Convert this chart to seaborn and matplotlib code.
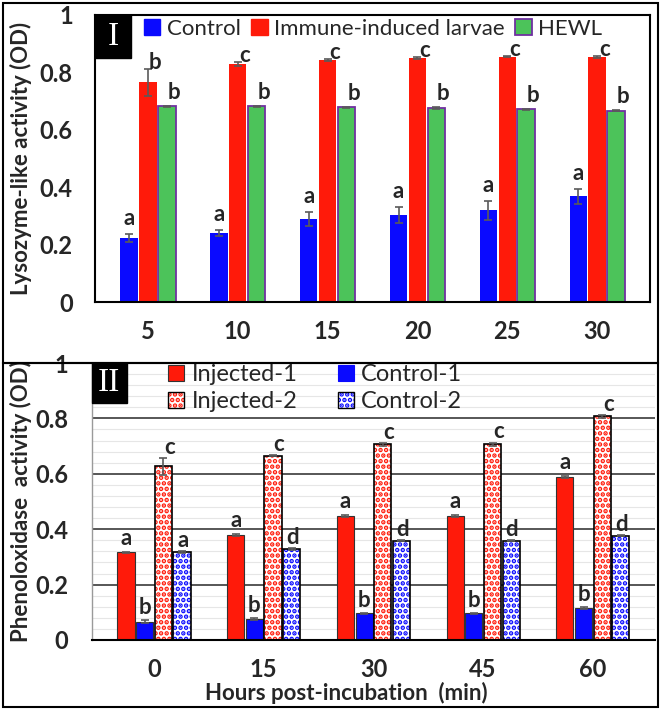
import numpy as np
import pandas as pd
import matplotlib
matplotlib.use('Agg')
import matplotlib.pyplot as plt
import seaborn as sns
from matplotlib.patches import Rectangle, Patch
from matplotlib.legend_handler import HandlerTuple

# ---- panel I: lysozyme-like activity ----
lys_times = ['5', '10', '15', '20', '25', '30']
lys_series = ['Control', 'Immune-induced larvae', 'HEWL']
lys_control = [0.223, 0.240, 0.290, 0.304, 0.319, 0.368]
lys_control_err = [0.013, 0.011, 0.025, 0.027, 0.032, 0.026]
lys_immune = [0.765, 0.829, 0.844, 0.850, 0.854, 0.854]
lys_immune_err = [0.048, 0.008, 0.004, 0.002, 0.002, 0.003]
lys_hewl = [0.682, 0.682, 0.678, 0.676, 0.672, 0.667]
lys_hewl_err = [0.002, 0.002, 0.002, 0.002, 0.002, 0.002]
lys_letters_control = ['a', 'a', 'a', 'a', 'a', 'a']
lys_letters_immune = ['b', 'c', 'c', 'c', 'c', 'c']
lys_letters_hewl = ['b', 'b', 'b', 'b', 'b', 'b']

# ---- panel II: phenoloxidase activity ----
po_times = ['0', '15', '30', '45', '60']
po_series = ['Injected-1', 'Control-1', 'Injected-2', 'Control-2']
po_inj1 = [0.317, 0.380, 0.448, 0.448, 0.588]
po_inj1_err = [0.002, 0.003, 0.003, 0.003, 0.003]
po_ctl1 = [0.066, 0.075, 0.096, 0.096, 0.116]
po_ctl1_err = [0.005, 0.004, 0.002, 0.002, 0.004]
po_inj2 = [0.627, 0.666, 0.707, 0.707, 0.807]
po_inj2_err = [0.030, 0.003, 0.005, 0.006, 0.006]
po_ctl2 = [0.317, 0.328, 0.358, 0.358, 0.377]
po_ctl2_err = [0.003, 0.003, 0.002, 0.002, 0.002]
po_letters_inj1 = ['a', 'a', 'a', 'a', 'a']
po_letters_ctl1 = ['b', 'b', 'b', 'b', 'b']
po_letters_inj2 = ['c', 'c', 'c', 'c', 'c']
po_letters_ctl2 = ['a', 'd', 'd', 'd', 'd']

BLUE = '#0a0aff'
RED = '#ff1a0a'
GREEN = '#4cc35a'
PURPLE = '#7030a0'
DOTS = '...'

sns.set_style('white')
plt.rcParams['font.family'] = ['Lato', 'DejaVu Sans']
plt.rcParams['hatch.linewidth'] = 2.3

lys_df = pd.DataFrame({
    'time': lys_times * 3,
    'series': np.repeat(lys_series, len(lys_times)),
    'value': lys_control + lys_immune + lys_hewl,
})
po_df = pd.DataFrame({
    'time': po_times * 4,
    'series': np.repeat(po_series, len(po_times)),
    'value': po_inj1 + po_ctl1 + po_inj2 + po_ctl2,
})

fig = plt.figure(figsize=(6.61, 7.10), dpi=100)
ax1 = fig.add_axes([0.1437, 0.5746, 0.8397, 0.4043])
ax2 = fig.add_axes([0.139, 0.0986, 0.852, 0.3901])


def add_errors_letters(ax, container, errs, letters, xfrac, dy):
    for p, e, lt in zip(container.patches, errs, letters):
        xc = p.get_x() + p.get_width() / 2
        top = p.get_height()
        ax.errorbar(xc, top, yerr=e, color='#5a5a5a', lw=1.2, capsize=3,
                    capthick=1.2, zorder=5)
        ax.annotate(lt, xy=(xc + xfrac * p.get_width(), top + e), xytext=(0, dy),
                    textcoords='offset points', ha='center', va='baseline',
                    fontsize=16, fontweight='bold', zorder=6)


# ---- Panel I ----
sns.barplot(data=lys_df, x='time', y='value', hue='series', order=lys_times,
            hue_order=lys_series, palette=[BLUE, RED, GREEN], width=0.63,
            gap=0.07, legend=False, ax=ax1, saturation=1)
for cont in ax1.containers:
    for p in cont.patches:
        p.set_linewidth(0)
for p in ax1.containers[2].patches:
    p.set_edgecolor(PURPLE)
    p.set_linewidth(1.3)

add_errors_letters(ax1, ax1.containers[0], lys_control_err, lys_letters_control, 0, 6.5)
add_errors_letters(ax1, ax1.containers[1], lys_immune_err, lys_letters_immune, 0.4, 0)
add_errors_letters(ax1, ax1.containers[2], lys_hewl_err, lys_letters_hewl, 0.4, 5)

ax1.set_ylim(0, 1)
ax1.set_yticks([0, 0.2, 0.4, 0.6, 0.8, 1.0])
ax1.set_yticklabels(['0', '0.2', '0.4', '0.6', '0.8', '1'])
ax1.tick_params(axis='both', length=0, labelsize=17)
ax1.tick_params(axis='y', pad=16)
ax1.tick_params(axis='x', pad=13)
for lb in ax1.get_xticklabels() + ax1.get_yticklabels():
    lb.set_fontweight('bold')
for s in ax1.spines.values():
    s.set_visible(True)
    s.set_color('black')
    s.set_linewidth(1.5)
ax1.set_xlabel('')
ax1.set_ylabel('Lysozyme-like activity (OD)', fontsize=16, fontweight='bold')
ax1.yaxis.set_label_coords(-0.114, 0.5)

h1 = [Patch(facecolor=BLUE, edgecolor=BLUE), Patch(facecolor=RED, edgecolor=RED),
      Patch(facecolor=GREEN, edgecolor=PURPLE, lw=1.3)]
ax1.legend(h1, lys_series, ncol=3, loc='center left', bbox_to_anchor=(0.088, 0.951),
           frameon=False, fontsize=16, handlelength=0.75, handleheight=0.75,
           handletextpad=0.3, columnspacing=0.45, borderpad=0, borderaxespad=0)

ax1.add_patch(Rectangle((0, 1), 0.065, -0.15, transform=ax1.transAxes,
                        facecolor='black', edgecolor='black', clip_on=False, zorder=7))
ax1.text(0.0325, 0.925, 'I', transform=ax1.transAxes, ha='center', va='center',
         color='white', fontsize=24, family='Liberation Serif', zorder=8)

# ---- Panel II ----
sns.barplot(data=po_df, x='time', y='value', hue='series', order=po_times,
            hue_order=po_series, palette=[RED, BLUE, RED, BLUE], width=0.68,
            gap=0.08, legend=False, ax=ax2, saturation=1)
for cont in ax2.containers[:2]:
    for p in cont.patches:
        p.set_edgecolor('#333333')
        p.set_linewidth(0.8)
for cont, col in zip(ax2.containers[2:], [RED, BLUE]):
    for p in cont.patches:
        p.set_facecolor('white')
        p.set_edgecolor(col)
        p.set_hatch(DOTS)
        p.set_linewidth(0)
        ax2.add_patch(Rectangle((p.get_x(), p.get_y()), p.get_width(), p.get_height(),
                                fill=False, edgecolor='black', lw=1.2, zorder=p.get_zorder() + 0.1))

add_errors_letters(ax2, ax2.containers[0], po_inj1_err, po_letters_inj1, 0, 5)
add_errors_letters(ax2, ax2.containers[1], po_ctl1_err, po_letters_ctl1, 0, 4.5)
add_errors_letters(ax2, ax2.containers[2], po_inj2_err, po_letters_inj2, 0.35, 3)
add_errors_letters(ax2, ax2.containers[3], po_ctl2_err, po_letters_ctl2, 0.05, 3)

ax2.set_ylim(0, 1)
ax2.set_yticks([0, 0.2, 0.4, 0.6, 0.8, 1.0])
ax2.set_yticklabels(['0', '0.2', '0.4', '0.6', '0.8', '1'])
ax2.set_yticks(np.arange(0.04, 1.0, 0.04), minor=True)
ax2.grid(axis='y', which='major', color='#3a3a3a', lw=1.2)
ax2.grid(axis='y', which='minor', color='#e6e6e6', lw=0.8)
ax2.set_axisbelow(True)
ax2.tick_params(axis='both', which='both', length=0, labelsize=17)
ax2.tick_params(axis='y', pad=17)
ax2.tick_params(axis='x', pad=13)
for lb in ax2.get_xticklabels() + ax2.get_yticklabels():
    lb.set_fontweight('bold')
ax2.spines['right'].set_visible(False)
ax2.spines['top'].set_color('#3a3a3a')
ax2.spines['top'].set_linewidth(1.2)
ax2.spines['left'].set_color('#9a9a9a')
ax2.spines['left'].set_linewidth(1.0)
ax2.spines['bottom'].set_color('black')
ax2.spines['bottom'].set_linewidth(1.5)
ax2.set_xlabel('Hours post-incubation  (min)', fontsize=16, fontweight='bold')
ax2.xaxis.set_label_coords(0.451, -0.152)
ax2.set_ylabel('Phenoloxidase  activity (OD)', fontsize=16, fontweight='bold')
ax2.yaxis.set_label_coords(-0.107, 0.5)

outline = Patch(facecolor='none', edgecolor='black', lw=1.0)
h2 = [Patch(facecolor=RED, edgecolor='#333333', lw=0.8),
      (Patch(facecolor='white', edgecolor=RED, hatch=DOTS, lw=0), outline),
      Patch(facecolor=BLUE, edgecolor=BLUE, lw=0.8),
      (Patch(facecolor='white', edgecolor=BLUE, hatch=DOTS, lw=0), outline)]
ax2.legend(h2, ['Injected-1', 'Injected-2', 'Control-1', 'Control-2'], ncol=2,
           loc='upper left', bbox_to_anchor=(0.135, 0.995), frameon=False, fontsize=17,
           handlelength=0.7, handleheight=0.7, handletextpad=0.3, columnspacing=1.7,
           labelspacing=0.25, borderpad=0, borderaxespad=0,
           handler_map={tuple: HandlerTuple(ndivide=1)})

ax2.add_patch(Rectangle((0, 1), 0.062, -0.145, transform=ax2.transAxes,
                        facecolor='black', edgecolor='black', clip_on=False, zorder=7))
ax2.text(0.031, 0.9275, 'II', transform=ax2.transAxes, ha='center', va='center',
         color='white', fontsize=24, family='Liberation Serif', zorder=8)

# panel borders
W, H = 661, 710
fig.add_artist(Rectangle((3 / W, 1 - 363 / H), 655 / W, 360 / H, transform=fig.transFigure,
                         fill=False, edgecolor='black', lw=1.5))
fig.add_artist(Rectangle((3 / W, 1 - 707 / H), 655 / W, 344 / H, transform=fig.transFigure,
                         fill=False, edgecolor='black', lw=1.5))

fig.savefig('out.png', dpi=100)
